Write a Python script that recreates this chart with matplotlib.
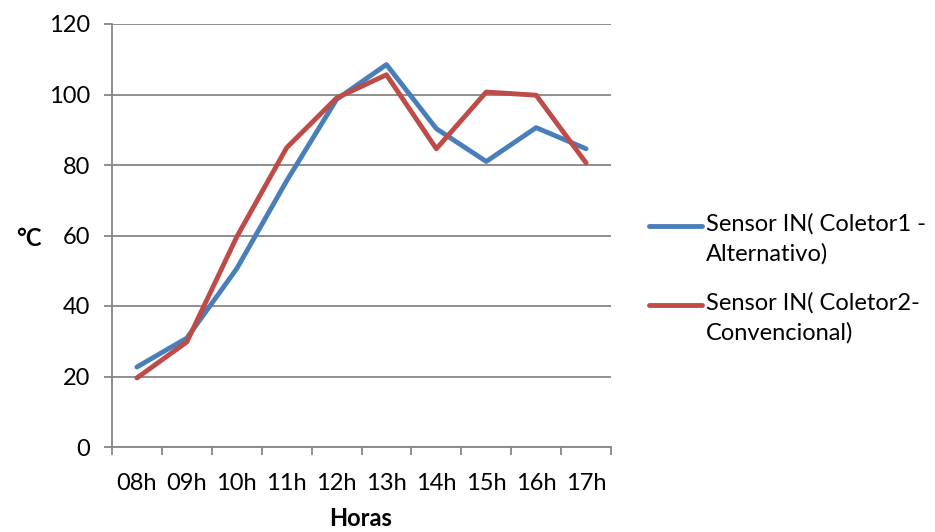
import matplotlib
matplotlib.use("Agg")
import matplotlib.pyplot as plt
from matplotlib.lines import Line2D

plt.rcParams['font.family'] = ['Lato', 'DejaVu Sans']

horas = ["08h", "09h", "10h", "11h", "12h", "13h", "14h", "15h", "16h", "17h"]
coletor1 = [22.7, 30.9, 50.6, 75.5, 98.6, 108.5, 90.3, 81.0, 90.6, 84.6]
coletor2 = [19.6, 29.8, 59.6, 84.9, 99.0, 105.6, 84.6, 100.7, 99.8, 80.6]
yticks = [0, 20, 40, 60, 80, 100, 120]

label1 = "Sensor IN( Coletor1 -\nAlternativo)"
label2 = "Sensor IN( Coletor2-\nConvencional)"

c_blue = "#4A7EBB"
c_red = "#BE4B48"
c_grid = "#868686"
fs = 17

fig = plt.figure(figsize=(9.35, 5.32), dpi=100)
ax = fig.add_axes([112 / 935, 1 - 447 / 532, (611 - 112) / 935, (447 - 24) / 532])

x = list(range(len(horas)))
ax.plot(x, coletor1, color=c_blue, lw=3.5, solid_capstyle='round', solid_joinstyle='round', zorder=3)
ax.plot(x, coletor2, color=c_red, lw=3.5, solid_capstyle='round', solid_joinstyle='round', zorder=4)

ax.set_xlim(-0.5, len(horas) - 0.5)
ax.set_ylim(0, 120)
ax.set_yticks(yticks)
ax.set_yticklabels([str(v) for v in yticks], fontsize=fs)
ax.set_xticks(x)
ax.set_xticklabels(horas, fontsize=fs)
ax.set_xticks([i - 0.5 for i in range(len(horas) + 1)], minor=True)
ax.tick_params(axis='x', which='major', length=0, pad=19)
ax.tick_params(axis='x', which='minor', length=6, width=1.3, color=c_grid, direction='out')
ax.tick_params(axis='y', length=6, width=1.3, color=c_grid, direction='out', pad=10)

ax.grid(axis='y', color=c_grid, lw=1.3)
ax.set_axisbelow(True)
for s in ['top', 'right']:
    ax.spines[s].set_visible(False)
for s in ['left', 'bottom']:
    ax.spines[s].set_color(c_grid)
    ax.spines[s].set_linewidth(1.3)

fig.text(29 / 935, 1 - 238 / 532, "°C", fontsize=fs, fontweight='bold', ha='center', va='center')
fig.text(361 / 935, 1 - 519 / 532, "Horas", fontsize=fs, fontweight='bold', ha='center', va='center')

# Legend drawn at the right of the plot area
for ypix, col, lab in [(226, c_blue, label1), (305, c_red, label2)]:
    yf = 1 - ypix / 532
    fig.add_artist(Line2D([649 / 935, 702 / 935], [yf, yf], color=col, lw=3.5,
                          solid_capstyle='round', transform=fig.transFigure))
    fig.text(706 / 935, yf + 0.024, lab, fontsize=fs, ha='left', va='top', linespacing=1.45)

fig.savefig("out.png", dpi=100)
